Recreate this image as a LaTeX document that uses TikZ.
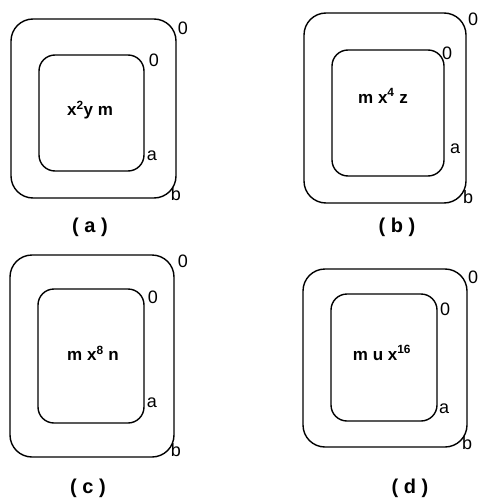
\documentclass[tikz,border=0pt]{standalone}
\usepackage{fontspec}
\setmainfont{Liberation Sans}
\begin{document}
\begin{tikzpicture}[x=1pt,y=-1pt,
  outerbox/.style={draw,line width=1.4pt,rounded corners=22pt,inner sep=0pt},
  innerbox/.style={draw,line width=1.4pt,rounded corners=16pt,inner sep=0pt},
  lbl/.style={inner sep=0pt,font=\fontsize{18}{18}\selectfont},
  expr/.style={inner sep=0pt,font=\bfseries\fontsize{17}{17}\selectfont},
  capt/.style={inner sep=0pt,font=\bfseries\fontsize{20}{20}\selectfont}]
\useasboundingbox (0,0) rectangle (479,500);
% (a)
\node[outerbox,minimum width=165pt,minimum height=179pt] (ao) at (93.5,108.5) {};
\node[innerbox,minimum width=105pt,minimum height=116pt] (ai) at (91.5,113) {};
\node[expr] (at) at (90,110) {x\textsuperscript{2}y m};
\node[lbl] (ao0) at (183,28) {0};
\node[lbl] (ai0) at (154,60) {0};
\node[lbl] (aa) at (152,156) {a};
\node[lbl] (ab) at (176,194) {b};
\node[capt] (ac) at (90,227) {( a )};
% (b)
\node[outerbox,minimum width=162pt,minimum height=190pt] (bo) at (385,108) {};
\node[innerbox,minimum width=112pt,minimum height=126pt] (bi) at (388,113) {};
\node[expr] (bt) at (383,96) {m x\textsuperscript{4} z};
\node[lbl] (bo0) at (473,19) {0};
\node[lbl] (bi0) at (447,53) {0};
\node[lbl] (ba) at (455,149) {a};
\node[lbl] (bb) at (468,197) {b};
\node[capt] (bc) at (397,227) {( b )};
% (c)
\node[outerbox,minimum width=164pt,minimum height=202pt] (co) at (92,356) {};
\node[innerbox,minimum width=106pt,minimum height=134pt] (ci) at (91,356) {};
\node[expr] (ct) at (93,353) {m x\textsuperscript{8} n};
\node[lbl] (co0) at (183,261) {0};
\node[lbl] (ci0) at (153,297) {0};
\node[lbl] (ca) at (152,403) {a};
\node[lbl] (cb) at (176,450) {b};
\node[capt] (cc) at (88,488) {( c )};
% (d)
\node[outerbox,minimum width=164pt,minimum height=178pt] (do) at (385,358) {};
\node[innerbox,minimum width=106pt,minimum height=127pt] (di) at (384,357.5) {};
\node[expr] (dt) at (382,353) {m u x\textsuperscript{16}};
\node[lbl] (do0) at (473,277) {0};
\node[lbl] (di0) at (445,309) {0};
\node[lbl] (da) at (444,409) {a};
\node[lbl] (db) at (467,443) {b};
\node[capt] (dc) at (410,488) {( d )};
\end{tikzpicture}
\end{document}
